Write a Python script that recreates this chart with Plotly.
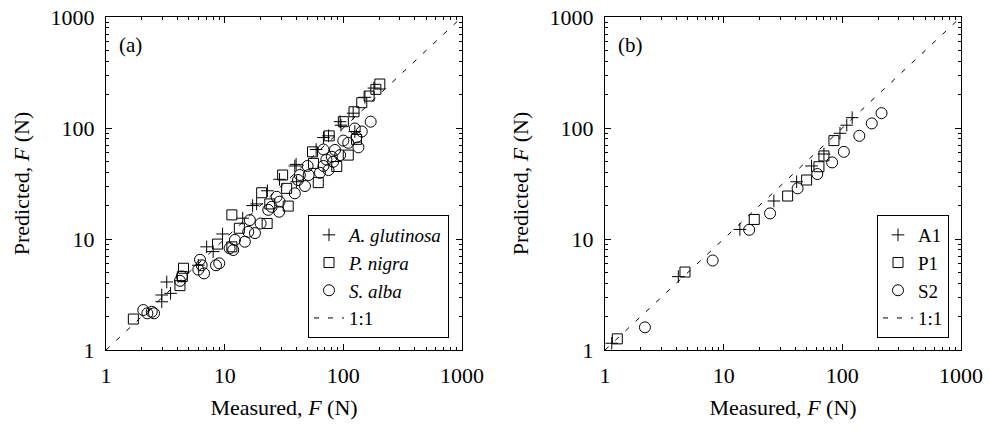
import plotly.graph_objects as go

# ---------------- Panel (a) data ----------------
alnus_x = [181, 152, 121, 125, 94, 95.5, 75, 68, 59, 39, 40, 40.4, 29, 22.9, 17.2, 18.6, 14.2, 9.6, 7.05, 8.0, 6.0, 3.25, 3.5, 2.95, 2.95]
alnus_y = [229, 189, 136, 93, 114, 106, 85, 82, 64, 45.5, 47, 32.8, 34.5, 27.2, 20, 20.7, 15.4, 11.1, 8.5, 7.7, 5.8, 4.1, 3.24, 3.13, 2.72]

populus_x = [203, 188, 165, 143, 123, 100, 76, 129, 110, 55, 88, 56, 30.8, 61.5, 20.5, 33.3, 34.3, 24, 11.5, 22.8, 13.3, 8.7, 11.5, 4.5, 4.4, 4.2, 1.7]
populus_y = [249, 223, 194, 169, 140, 114, 85, 79, 57, 61, 45, 48, 37.7, 32.2, 26.1, 28.6, 19.8, 20.7, 16.5, 13.8, 12.5, 9.0, 8.5, 5.45, 4.6, 3.8, 1.9]

salix_x = [170, 125, 143, 129, 100, 110, 134, 85, 68, 94, 80, 72, 82, 68, 75, 63.5, 50, 43, 51, 41.5, 47.5, 39, 27.4, 29, 24.9, 23.3, 28.8,
           16.3, 20.1, 15.8, 18, 14.8, 12.2, 11.8, 9.0, 6.2, 6.4, 6.0, 6.7, 8.45, 4.35, 4.2, 2.06, 2.23, 2.43, 2.54, 11.0]
salix_y = [114, 99, 93, 82.5, 77, 73.5, 67, 63.4, 64, 57, 55, 52, 49.6, 45.5, 41.8, 39.5, 45.5, 37.7, 37.7, 34, 30, 25.8, 24, 21.7, 19.5, 18.3, 17.6,
           14.8, 13.8, 11.6, 11.3, 9.45, 9.8, 7.96, 6.04, 6.5, 5.8, 5.3, 4.9, 5.8, 4.6, 4.2, 2.29, 2.14, 2.21, 2.14, 8.25]

# ---------------- Panel (b) data ----------------
a1_x = [121, 109, 95.5, 70, 55, 41.2, 26.5, 13.7, 4.15, 1.14]
a1_y = [124, 106, 89.6, 58.3, 45.5, 32.8, 22, 12.2, 4.58, 1.15]

p1_x = [85, 70, 63.5, 50, 34.6, 18.1, 4.72, 1.27]
p1_y = [77, 56, 44.8, 34, 24.4, 15, 5.04, 1.26]

s2_x = [214, 177, 139, 103, 82, 61.5, 42, 24.6, 16.4, 8.08, 2.17]
s2_y = [136, 110, 85, 61, 49, 38.5, 28.6, 17, 12.1, 6.4, 1.6]

one_to_one = [1, 1000]

tick_vals = [1, 10, 100, 1000]
tick_text = ["1", "10", "100", "1000"]
minor_vals = [m * 10 ** d for d in range(3) for m in range(2, 10)]

names_a = ["<i>A. glutinosa</i>", "<i>P. nigra</i>", "<i>S. alba</i>", "1:1"]
names_b = ["A1", "P1", "S2", "1:1"]

FONT = "Liberation Serif"

fig = go.Figure()

def add_panel(xs, ys, names, xa, ya, legend):
    symbols = ["cross-thin-open", "square-open", "circle-open"]
    sizes = [9, 10, 11]
    for (x, y), nm, sym, sz in zip(zip(xs, ys), names[:3], symbols, sizes):
        fig.add_trace(go.Scatter(
            x=x, y=y, mode="markers", name=nm, xaxis=xa, yaxis=ya, legend=legend,
            marker=dict(symbol=sym, size=sz, color="black",
                        line=dict(color="black", width=1)),
        ))
    fig.add_trace(go.Scatter(
        x=one_to_one, y=one_to_one, mode="lines", name=names[3], xaxis=xa, yaxis=ya,
        legend=legend, line=dict(color="black", width=1, dash="5px,9px"),
    ))

add_panel([alnus_x, populus_x, salix_x], [alnus_y, populus_y, salix_y], names_a, "x", "y", "legend")
add_panel([a1_x, p1_x, s2_x], [a1_y, p1_y, s2_y], names_b, "x2", "y2", "legend2")

axis_common = dict(
    type="log", range=[0, 3], tickmode="array", tickvals=tick_vals, ticktext=tick_text,
    ticks="inside", ticklen=6, tickcolor="black", tickwidth=1,
    minor=dict(tickmode="array", tickvals=minor_vals, ticks="inside", ticklen=3,
               tickcolor="black", tickwidth=1, showgrid=False),
    showline=True, linecolor="black", linewidth=1, mirror="allticks",
    showgrid=False, zeroline=False, automargin=False, ticklabeloverflow="allow",
    tickfont=dict(family=FONT, size=22, color="black"),
)

xtitle = dict(text="Measured, <i>F</i> (N)", font=dict(family=FONT, size=22, color="black"), standoff=12)
ytitle = dict(text="Predicted, <i>F</i> (N)", font=dict(family=FONT, size=22, color="black"), standoff=14)

W, H = 990, 434
ml, mr, mt, mb = 106, 29, 17, 84
pw = W - ml - mr
ph = H - mt - mb
dom_a = [0, 356 / pw]
dom_b = [(605 - ml) / pw, 1]

legend_common = dict(
    bgcolor="white", bordercolor="black", borderwidth=1,
    font=dict(family=FONT, size=19, color="black"),
    xanchor="right", yanchor="bottom", tracegroupgap=0, itemwidth=30,
)

fig.update_layout(
    width=W, height=H,
    margin=dict(l=ml, r=mr, t=mt, b=mb, autoexpand=False),
    paper_bgcolor="white", plot_bgcolor="white",
    font=dict(family=FONT, color="black"),
    xaxis=dict(axis_common, domain=dom_a, anchor="y", title=xtitle, ticklabelstandoff=6),
    yaxis=dict(axis_common, domain=[0, 1], anchor="x", title=ytitle, ticklabelstandoff=6),
    xaxis2=dict(axis_common, domain=dom_b, anchor="y2", title=xtitle, ticklabelstandoff=6),
    yaxis2=dict(axis_common, domain=[0, 1], anchor="x2", title=ytitle, ticklabelstandoff=6),
    legend=dict(legend_common, x=(449 - ml) / pw, y=(350 - 338) / ph),
    legend2=dict(legend_common, x=(949 - ml) / pw, y=(350 - 338) / ph),
    showlegend=True,
    annotations=[
        dict(text="(a)", xref="x domain", yref="y domain", x=0.03, y=0.915,
             xanchor="left", yanchor="middle", showarrow=False,
             font=dict(family=FONT, size=21, color="black")),
        dict(text="(b)", xref="x2 domain", yref="y2 domain", x=0.03, y=0.915,
             xanchor="left", yanchor="middle", showarrow=False,
             font=dict(family=FONT, size=21, color="black")),
    ],
)

# remove the default 8px page margin so the figure fills the window exactly
fig.write_html("out.html", config={"displayModeBar": False},
               post_script="document.body.style.margin='0';")
